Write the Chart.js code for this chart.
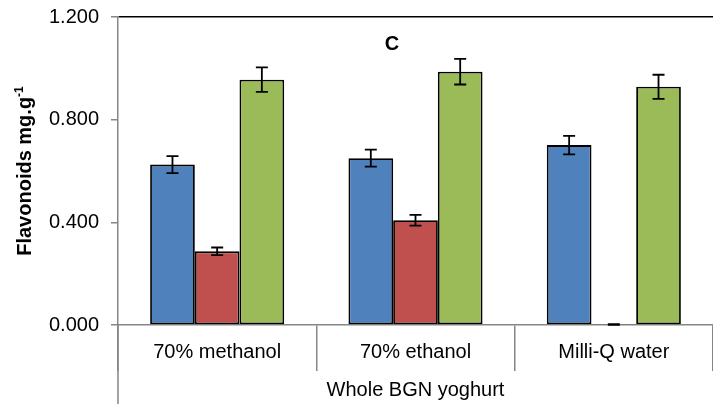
<!DOCTYPE html>
<html lang="en">
<head>
	<meta charset="UTF-8">
	<title>Flavonoids - Whole BGN yoghurt</title>
	<script src="https://cdn.jsdelivr.net/npm/chart.js"></script>
	<style>
		body { margin: 0; background: #fff; }
		#wrap { width: 713px; height: 404px; position: relative; }
	</style>
</head>
<body>
<div id="wrap"><canvas id="flavChart"></canvas></div>

<script>
// values (mg.g-1)
const solvents = ['70% methanol', '70% ethanol', 'Milli-Q water'];
const blueVals = [0.625, 0.650, 0.701];
const blueErr = [0.033, 0.033, 0.036];
const redVals = [0.287, 0.408, 0.002];
const redErr = [0.015, 0.021, 0.001];
const greenVals = [0.956, 0.987, 0.928];
const greenErr = [0.048, 0.050, 0.047];
const yTicks = [0, 0.4, 0.8, 1.2];

const FONT = "'Liberation Sans', Arial, sans-serif";
const AXIS_GREY = '#868686';
const errors = [blueErr, redErr, greenErr];

// error bars, y title with superscript, panel letter, long left axis line
const extras = {
    id: 'extras',
    afterDatasetsDraw(chart) {
        const ctx = chart.ctx;
        const y = chart.scales.y;
        ctx.save();
        ctx.strokeStyle = '#000';
        ctx.lineWidth = 1.8;
        chart.data.datasets.forEach((ds, i) => {
            chart.getDatasetMeta(i).data.forEach((bar, j) => {
                const v = ds.data[j], e = errors[i][j];
                const top = y.getPixelForValue(v + e);
                const bot = y.getPixelForValue(v - e);
                ctx.beginPath();
                ctx.moveTo(bar.x, top); ctx.lineTo(bar.x, bot);
                ctx.moveTo(bar.x - 6, top); ctx.lineTo(bar.x + 6, top);
                ctx.moveTo(bar.x - 6, bot); ctx.lineTo(bar.x + 6, bot);
                ctx.stroke();
            });
        });
        ctx.restore();
    },
    afterDraw(chart) {
        const ctx = chart.ctx;
        const area = chart.chartArea;
        ctx.save();
        // left axis line runs down through both label rows
        ctx.strokeStyle = AXIS_GREY;
        ctx.lineWidth = 1.5;
        ctx.beginPath();
        ctx.moveTo(area.left, area.bottom);
        ctx.lineTo(area.left, chart.height);
        ctx.stroke();

        // panel letter
        ctx.fillStyle = '#000';
        ctx.font = 'bold 20px ' + FONT;
        ctx.textAlign = 'center';
        ctx.textBaseline = 'middle';
        ctx.fillText('C', area.left + 274, area.top + 27);

        // y axis title, rotated, with superscript
        const main = 'Flavonoids mg.g';
        const sup = '-1';
        ctx.font = 'bold 20px ' + FONT;
        const wMain = ctx.measureText(main).width;
        ctx.font = 'bold 12px ' + FONT;
        const wSup = ctx.measureText(sup).width;
        const total = wMain + wSup;
        ctx.translate(31, (area.top + area.bottom) / 2);
        ctx.rotate(-Math.PI / 2);
        ctx.textAlign = 'left';
        ctx.textBaseline = 'alphabetic';
        ctx.font = 'bold 20px ' + FONT;
        ctx.fillText(main, -total / 2, 0);
        ctx.font = 'bold 12px ' + FONT;
        ctx.fillText(sup, -total / 2 + wMain, -8);
        ctx.restore();
    }
};

const ctx = document.getElementById('flavChart').getContext('2d');
new Chart(ctx, {
    type: 'bar',
    data: {
        labels: solvents,
        datasets: [
            { data: blueVals, backgroundColor: '#4F81BD' },
            { data: redVals, backgroundColor: '#C0504D' },
            { data: greenVals, backgroundColor: '#9BBB59' }
        ]
    },
    options: {
        responsive: true,
        maintainAspectRatio: false,
        animation: false,
        layout: { padding: { top: 17, right: 0, bottom: 0, left: 0 } },
        datasets: {
            bar: {
                borderColor: '#000',
                borderWidth: 1.8,
                borderSkipped: false,
                barPercentage: 1,
                categoryPercentage: 0.676
            }
        },
        plugins: {
            legend: { display: false },
            tooltip: { enabled: false }
        },
        scales: {
            x: {
                offset: true,
                grid: {
                    offset: true,
                    drawOnChartArea: false,
                    drawTicks: true,
                    tickLength: 46,
                    color: AXIS_GREY,
                    lineWidth: 1.5
                },
                border: { color: AXIS_GREY, width: 1.5 },
                ticks: { color: '#000', padding: -31, font: { family: FONT, size: 20 }, maxRotation: 0 },
                title: {
                    display: true,
                    text: 'Whole BGN yoghurt',
                    color: '#000',
                    font: { family: FONT, size: 20 },
                    padding: { top: 0, bottom: 2 }
                },
                afterFit: s => { s.height = 79; }
            },
            y: {
                min: 0,
                max: 1.2,
                afterBuildTicks: s => { s.ticks = yTicks.map(v => ({ value: v })); },
                grid: {
                    drawOnChartArea: true,
                    color: c => (c.tick && c.tick.value === 1.2 ? '#000' : 'rgba(0,0,0,0)'),
                    lineWidth: 1.5,
                    tickColor: AXIS_GREY,
                    tickLength: 7
                },
                border: { color: AXIS_GREY, width: 1.5 },
                ticks: {
                    color: '#000',
                    padding: 12,
                    font: { family: FONT, size: 20 },
                    callback: v => Number(v).toFixed(3)
                },
                afterFit: s => { s.width = 118; s.paddingTop = 0; s.paddingBottom = 0; }
            }
        }
    },
    plugins: [extras]
});
</script>
</body>
</html>
